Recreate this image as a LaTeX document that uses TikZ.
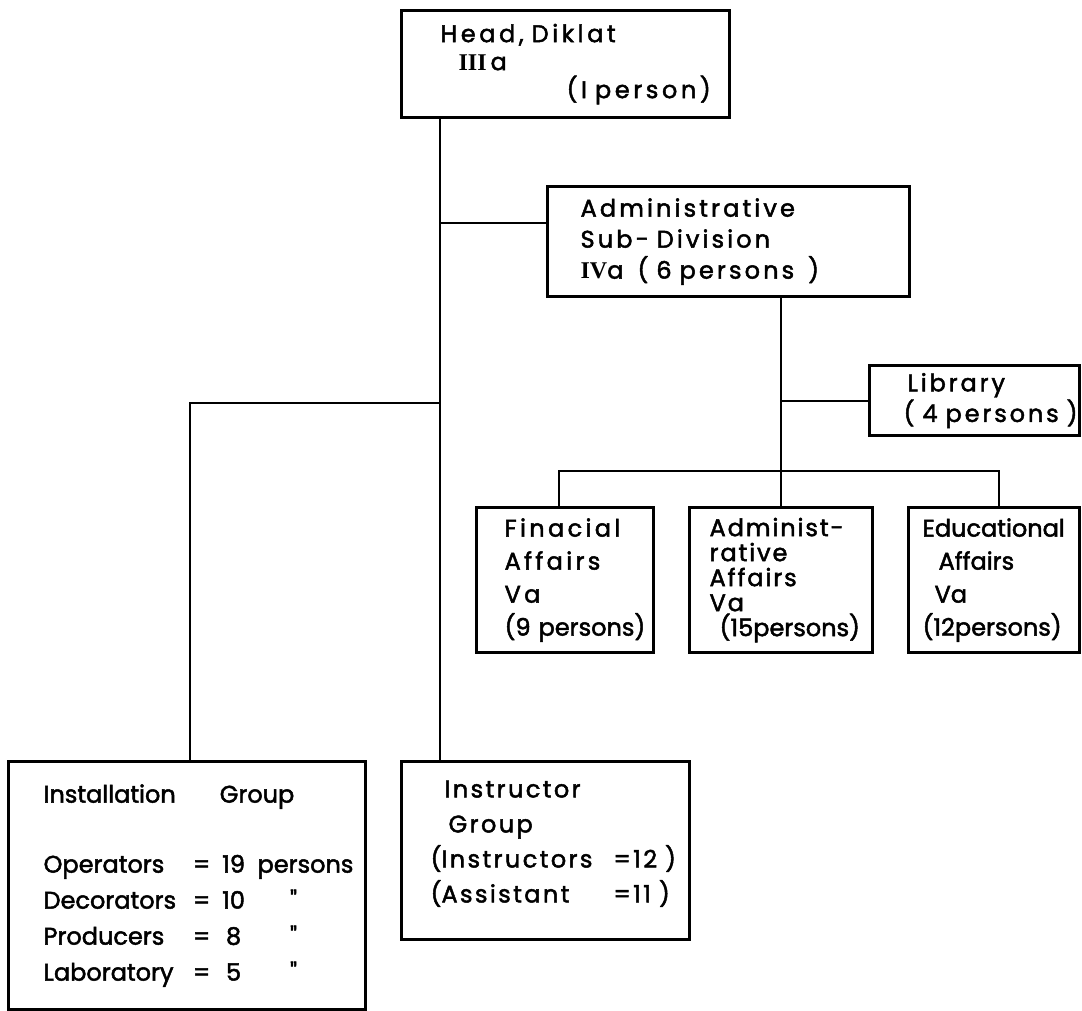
\documentclass[tikz,border=0pt]{standalone}
\usepackage{fontspec}
\usetikzlibrary{positioning}
\newfontfamily\chartfont{Poppins}[FakeBold=2]
\newfontfamily\romfont{Liberation Serif}
\newcommand{\romnum}[1]{{\romfont\bfseries #1}}
\newcommand{\staffrow}[3]{\makebox[75pt][l]{#1}\makebox[8pt][c]{=}\makebox[24pt][c]{#2}#3}
\newcommand{\ditto}{\makebox[36pt][c]{"}}
\newcommand{\tight}{\addfontfeature{LetterSpace=0}}

\begin{document}
\begin{tikzpicture}[x=0.5pt,y=-0.5pt,
  unit/.style={draw,line width=1.6pt,anchor=north west,align=left,inner ysep=0pt},
  link/.style={line width=1pt},
  lead/.style 2 args={font={\chartfont\fontsize{12}{#1}\selectfont
    \addfontfeature{LetterSpace=#2}\hyphenpenalty=10000\exhyphenpenalty=10000}}]

  \useasboundingbox (0,0) rectangle (1082,1011);

  % head and sub-division
  \node[unit,lead={14pt}{15},minimum width=164pt,minimum height=53.5pt,
    inner xsep=19.5pt,text width=125pt] (head) at (400,9)
    {Head,~Diklat\\ \hspace*{9pt}\romnum{III}\,a\\ \hspace*{63pt}(I~person)};
  \node[unit,lead={15.5pt}{13},minimum width=181pt,minimum height=55pt,
    inner xsep=16.5pt,text width=148pt] (admin) at (546,185)
    {Administrative\\ Sub-~Division\\
     \romnum{IV}a\hspace{7pt}(\hspace{4pt}6~persons\hspace{7pt})};
  \node[unit,lead={14pt}{12},minimum width=105pt,minimum height=35pt,
    inner xsep=17pt,text width=71pt] (lib) at (868,364)
    {\hspace*{2pt}Library\\ (~4~persons~)};

  % affairs
  \node[unit,lead={16.5pt}{14},minimum width=88.5pt,minimum height=72.5pt,
    inner xsep=14pt,text width=60.5pt] (fin) at (475,506)
    {Finacial\\ Affairs\\ Va\\ {\tight(9~persons)}};
  \node[unit,lead={12.5pt}{8},minimum width=91.5pt,minimum height=72.5pt,
    inner xsep=10pt,text width=71.5pt] (adm2) at (688,506)
    {Administ-\\ rative\\ Affairs\\ Va\\ \hspace*{5pt}{\tight(15persons)}};
  \node[unit,lead={16.5pt}{0},minimum width=85.5pt,minimum height=72.5pt,
    inner xsep=7pt,text width=71.5pt] (edu) at (907,506)
    {Educational\\ \hspace*{8pt}Affairs\\ \hspace*{6pt}Va\\ (12persons)};

  % groups
  \node[unit,lead={18pt}{0},minimum width=178.5pt,minimum height=124pt,
    inner xsep=17.5pt,text width=143.5pt] (inst) at (7,760)
    {Installation\hspace*{22pt}Group\\[17pt]
     \staffrow{Operators}{19}{persons}\\
     \staffrow{Decorators}{10}{\ditto}\\
     \staffrow{Producers}{8}{\ditto}\\
     \staffrow{Laboratory}{5}{\ditto}};
  \node[unit,lead={17.5pt}{10},minimum width=144pt,minimum height=89pt,
    inner xsep=14.5pt,text width=115pt] (instr) at (400,760)
    {\hspace*{7pt}Instructor\\ \hspace*{9pt}Group\\
     (\makebox[86pt][l]{Instructors}=12~)\\
     (\makebox[86pt][l]{Assistant}=11~)\rule[-9pt]{0pt}{9pt}};

  \coordinate (trunk) at (440,223);
  \coordinate (lbend) at (190,403);
  \coordinate (busL) at (559,471);
  \coordinate (busR) at (999,471);

  \draw[link] (head.south -| trunk) -- (instr.north -| trunk);
  \draw[link] (trunk) -- (trunk -| admin.west);
  \draw[link] (lbend -| trunk) -- (lbend) -- (lbend |- inst.north);
  \draw[link] (adm2.north |- admin.south) -- (adm2.north);
  \draw[link] (adm2.north |- lib.west) -- (lib.west);
  \draw[link] (busL |- fin.north) -- (busL) -- (busR) -- (busR |- edu.north);
\end{tikzpicture}
\end{document}
